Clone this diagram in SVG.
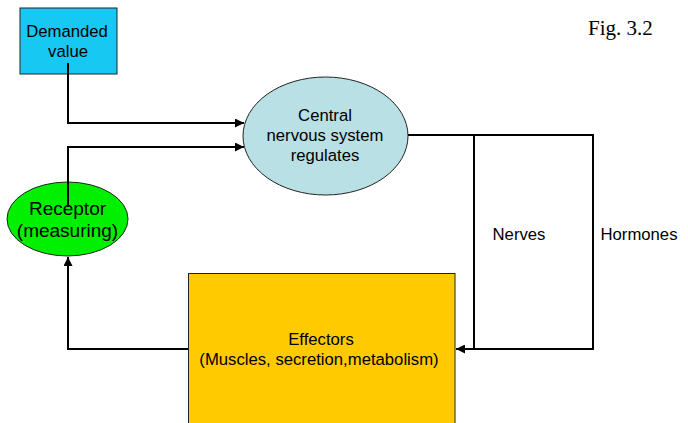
<svg xmlns="http://www.w3.org/2000/svg" width="688" height="423" viewBox="0 0 688 423">
  <style>
    .shape { stroke: #222; stroke-width: 1; }
    .label { font-family: "Liberation Sans", Arial, sans-serif; font-size: 16.7px; fill: #000; text-anchor: middle; }
    .big { font-size: 19px; }
    .wire { fill: none; stroke: #000; stroke-width: 2; }
  </style>
  <defs>
    <marker id="arrow" viewBox="0 0 10 10" refX="10" refY="5" markerWidth="4.5" markerHeight="4.5" orient="auto" markerUnits="strokeWidth">
      <path d="M0,0 L10,5 L0,10 z" fill="#000"/>
    </marker>
  </defs>

  <rect width="688" height="423" fill="#fff"/>

  <g id="demanded-value">
    <rect class="shape" x="20" y="8" width="97" height="66" fill="#16c8f2"/>
    <text class="label" x="67" y="37">Demanded</text>
    <text class="label" x="68" y="57">value</text>
  </g>

  <g id="cns">
    <ellipse class="shape" cx="325.5" cy="136" rx="82.5" ry="59" fill="#b9e0e4"/>
    <text class="label" x="325" y="121">Central</text>
    <text class="label" x="325" y="141">nervous system</text>
    <text class="label" x="325" y="161">regulates</text>
  </g>

  <g id="receptor">
    <ellipse class="shape" cx="67.5" cy="219" rx="60.5" ry="37" fill="#00f000"/>
    <text class="label big" x="67.5" y="215">Receptor</text>
    <text class="label big" x="67.5" y="237">(measuring)</text>
  </g>

  <g id="effectors">
    <rect class="shape" x="188.5" y="273.5" width="266.5" height="160" fill="#ffcb00"/>
    <text class="label" x="321" y="345">Effectors</text>
    <text class="label" x="319" y="365">(Muscles, secretion,metabolism)</text>
  </g>

  <g id="fig-label">
    <text x="588" y="35" font-family="'Liberation Serif', 'Times New Roman', serif" font-size="21" fill="#000">Fig. 3.2</text>
  </g>

  <g id="connectors">
    <path class="wire" d="M68,63 V123 H244" marker-end="url(#arrow)"/>
    <path class="wire" d="M68,207 V147 H244" marker-end="url(#arrow)"/>
    <path class="wire" d="M188,349 H68 V257" marker-end="url(#arrow)"/>
    <path class="wire" d="M408,135 H593 V349 H456" marker-end="url(#arrow)"/>
    <path class="wire" d="M474,135 V349"/>
    <text class="label" x="519" y="240">Nerves</text>
    <text class="label" x="639" y="240">Hormones</text>
  </g>
</svg>
